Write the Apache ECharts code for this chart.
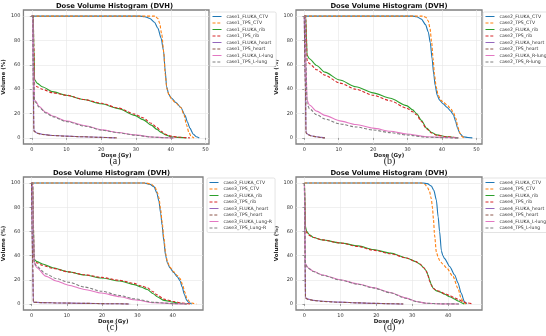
<!DOCTYPE html>
<html>
<head>
<meta charset="utf-8">
<script src="https://cdn.jsdelivr.net/npm/echarts@6/dist/echarts.min.js"></script>
<style>
  html, body { margin: 0; padding: 0; background: #fff; }
  #chart { width: 546px; height: 336px; }
</style>
</head>
<body>
<div id="chart"></div>
<script>
// curve data: [dose (Gy), volume (%)]
// case 1
const c1FlukaCtv = [[0,100],[31,100],[32.5,99.5],[34,98],[35.3,95],[36.3,90],[37.2,82],[37.9,72],[38.4,55],[38.8,42],[39.4,36],[40.1,33],[41.5,29],[42.9,25],[44.1,18.5],[44.8,13],[45.5,8],[46.5,3],[47.3,1],[48.2,0]];
const c1TpsCtv = [[0,100],[35.5,100],[36.3,98],[36.8,94],[37.4,85],[38,70],[38.4,52],[38.9,40],[39.5,35],[40.2,32],[41.5,28.5],[42.9,25],[43.8,19],[44.5,11],[45.2,4.5],[45.9,1],[46.7,0]];
const c1FlukaRib = [[0,100],[0.4,100],[0.6,75],[0.8,48],[1.5,45],[3,42],[6,38],[10,35],[15,31.5],[20,28],[25,24],[29.6,18.5],[32,15],[34.4,10.5],[36,7],[37.2,4.5],[38.5,2.5],[40,1],[42,0.4],[44.5,0]];
const c1TpsRib = [[0,100],[0.4,100],[0.6,75],[0.8,44],[1.5,42],[3,40],[6,37],[10,35],[15,31.5],[20,28.5],[25,24.5],[29.6,19.5],[32,16.5],[34.4,12],[36,8.5],[37.2,5.5],[38.5,3],[40,1.5],[42,0.6],[45.5,0]];
const c1FlukaHeart = [[0,100],[0.3,100],[0.45,40],[0.6,6],[1.5,4],[3,3],[6,2],[10,1.5],[15,0.9],[20,0.5],[24,0]];
const c1TpsHeart = [[0,100],[0.3,100],[0.45,40],[0.6,5.5],[1.5,3.8],[3,2.8],[6,2],[10,1.4],[15,0.9],[20,0.4],[24.5,0]];
const c1FlukaLung = [[0,100],[0.3,100],[0.5,60],[0.8,31],[1.2,30],[2,26],[4.1,21],[6,18],[9.8,14],[15.4,10],[20.2,6.6],[24.9,4.4],[29.6,2.5],[34.4,0.8],[39,0.1],[41,0]];
const c1TpsLung = [[0,100],[0.3,100],[0.5,60],[0.8,30],[1.2,29],[2,25.5],[4.1,20.5],[6,17.5],[9.8,13.5],[15.4,9.6],[20.2,6.3],[24.9,4.2],[29.6,2.3],[34.4,0.7],[39,0.1],[41,0]];
// case 2
const c2FlukaCtv = [[0,100],[31.5,100],[32.6,99.5],[34,97.5],[35.2,93],[36,87],[36.6,78],[37.1,65],[37.6,52],[38,43],[38.6,35],[39.3,31],[40.3,28],[41.5,25],[42.5,22],[43.3,19],[43.9,14],[44.5,8],[45.2,3.5],[46.1,1],[47.5,0.3],[48.8,0]];
const c2TpsCtv = [[0,100],[34.5,100],[35.3,99],[36,96],[36.5,90],[37,78],[37.4,65],[37.8,52],[38.3,42],[38.9,35],[39.6,31],[40.5,29],[41.5,27],[42.5,24],[43.3,21],[44,16],[44.6,9],[45.2,4],[45.7,1.5],[46.3,0]];
const c2FlukaRib = [[0,100],[0.4,100],[0.6,85],[0.8,68],[1.5,65],[3.6,59.5],[6,54],[10.3,47.5],[15,42],[20,37],[25,32.5],[29.7,26.5],[31.5,23],[32.6,20],[34,14.5],[35.5,8],[37,4.5],[38.4,2.5],[41.3,1],[44.7,0]];
const c2TpsRib = [[0,100],[0.4,100],[0.6,85],[0.8,64],[1.5,61],[3.6,56],[6,51.5],[10.3,45],[15,40],[20,35],[25,30.5],[29.7,24.5],[31.5,21.5],[32.6,19],[34,13.5],[35.5,7.5],[37,4],[38.4,2.2],[41.3,0.9],[44.7,0]];
const c2FlukaHeart = [[0,100],[0.2,100],[0.35,40],[0.5,4.5],[1,3],[2,1.8],[3.5,1],[5,0.4],[6,0]];
const c2TpsHeart = [[0,100],[0.2,100],[0.35,40],[0.5,4],[1,2.8],[2,1.6],[3.5,0.9],[5,0.3],[6,0]];
const c2FlukaLung = [[0,100],[0.3,100],[0.5,60],[0.8,31],[1.5,27],[3.6,22],[6,18.5],[10.3,14],[15,11],[20,8],[25,5.5],[29.7,3.2],[35.5,1],[41.3,0.3],[44.7,0]];
const c2TpsLung = [[0,100],[0.3,100],[0.5,60],[0.8,28],[1.5,24],[3.6,19],[6,15.5],[10.3,11.5],[15,9],[20,6.5],[25,4.3],[29.7,2.4],[35.5,0.6],[41.3,0.1],[44.7,0]];
// case 3
const c3FlukaCtv = [[0,100],[32,100],[33.5,99],[34.7,97],[35.5,92],[36.1,85],[36.6,75],[37,65],[37.5,52],[38,40],[38.5,34],[39.2,30],[40.3,26],[41.3,22.5],[42.1,19],[42.7,14],[43.3,8],[44,3],[44.6,1],[45.4,0]];
const c3TpsCtv = [[0,100],[32.5,100],[34,99],[35,96.5],[35.7,92],[36.1,88],[36.6,78],[37,68],[37.5,55],[38,42],[38.5,35],[39.2,30.5],[40.3,26.5],[41.3,23.5],[42.1,21],[42.8,16],[43.4,10],[44,5],[44.8,2],[45.8,0.5],[46.8,0]];
const c3FlukaRib = [[0,100],[0.3,100],[0.5,70],[0.7,37],[1.5,35],[3.1,33],[6,30],[10.5,26.5],[15,24],[19.8,21.5],[25,19],[29.1,16],[31,14],[32.8,12],[34.5,8.5],[35.6,6],[37.5,3],[40.3,1.5],[42,0.6],[44,0]];
const c3TpsRib = [[0,100],[0.3,100],[0.5,70],[0.7,35],[1.5,34],[3.1,32],[6,29.5],[10.5,26.5],[15,24.2],[19.8,22],[25,19.5],[29.1,17],[31,15],[32.8,13.5],[34.5,10],[35.6,7.5],[37.5,4],[40.3,2],[42.5,0.8],[45,0]];
const c3FlukaHeart = [[0,100],[0.2,100],[0.35,30],[0.5,1.5],[3,1.1],[8,0.8],[15,0.5],[22,0.2],[27.7,0]];
const c3TpsHeart = [[0,100],[0.2,100],[0.35,30],[0.5,1.4],[3,1.1],[8,0.8],[15,0.5],[22,0.2],[28,0]];
const c3FlukaLung = [[0,100],[0.3,100],[0.5,60],[0.8,33],[1.5,30],[4,23],[7,19],[10.5,15.5],[15,12],[19.8,9],[25,6],[29.1,3.5],[34.7,1],[40.3,0.3],[44,0]];
const c3TpsLung = [[0,100],[0.3,100],[0.5,60],[0.8,34],[1.5,31],[4,25],[7,21],[10.5,18],[15,14],[19.8,10.5],[25,7],[29.1,4.3],[34.7,1.3],[40.3,0.3],[44,0]];
// case 4
const c4FlukaCtv = [[0,100],[33,100],[34.2,99.5],[35.3,97.5],[36,94],[36.7,86],[37.2,72],[37.6,60],[38.1,44],[38.5,40],[39,37.5],[40.4,31],[41.8,24],[42.7,17.5],[43.6,9],[44.5,2],[45.2,0]];
const c4TpsCtv = [[0,100],[32.5,100],[33.5,99],[34.3,96],[34.8,93],[35.3,87],[35.6,80],[35.9,70],[36.2,57],[36.7,43],[37.2,38.5],[37.6,36],[38.5,33],[39.5,30],[41.3,23],[42.7,13],[43.6,4.5],[44.3,1],[45,0]];
const c4FlukaRib = [[0,100],[0.1,100],[0.2,80],[0.3,64],[0.6,60],[1.5,57],[2.5,55],[5,53],[9.9,50.5],[15,48],[19.1,45],[24,42],[28.4,38],[31,35],[32.1,33],[33.2,30],[33.9,27.5],[34.4,24],[34.8,20],[35.3,16],[35.8,13],[36.6,11],[37.6,10],[39,8],[40.4,6],[41.8,4],[42.7,2.5],[44.1,0.5],[44.5,0]];
const c4TpsRib = [[0,100],[0.1,100],[0.2,80],[0.3,62],[0.6,59],[1.5,56.5],[2.5,55],[5,53],[9.9,50.5],[15,47.5],[19.1,44.5],[24,41.5],[28.4,38],[31,35],[32.1,33],[33.2,30],[33.9,27],[34.4,23],[34.8,19],[35.3,15.5],[35.8,13],[36.6,11.5],[37.6,10.5],[39,8.5],[40.4,7],[41.8,5],[42.7,4],[44,2],[45,1],[46.9,0]];
const c4FlukaHeart = [[0,100],[0.05,100],[0.15,40],[0.3,5],[1,4],[2.5,3],[5,2.2],[9.9,1.5],[15,0.9],[19,0.5],[24,0.2],[27.5,0]];
const c4TpsHeart = [[0,100],[0.05,100],[0.15,40],[0.3,4.8],[1,3.8],[2.5,2.9],[5,2.1],[9.9,1.4],[15,0.9],[19,0.5],[24,0.2],[27.5,0]];
const c4FlukaLung = [[0,100],[0.05,100],[0.15,60],[0.3,33],[1,30],[2.5,27],[5,24],[9.9,20],[15,16.5],[19.1,13.5],[23.8,9.5],[28.4,4.8],[31.1,2],[33.9,0.6],[38,0.1],[43,0]];
const c4TpsLung = [[0,100],[0.05,100],[0.15,60],[0.3,32.5],[1,29.5],[2.5,26.8],[5,23.8],[9.9,19.8],[15,16.3],[19.1,13.3],[23.8,9.3],[28.4,4.6],[31.1,1.9],[33.9,0.6],[38,0.1],[43,0]];

const names1 = ["case1_FLUKA_CTV","case1_TPS_CTV","case1_FLUKA_rib","case1_TPS_rib","case1_FLUKA_heart","case1_TPS_heart","case1_FLUKA_L-lung","case1_TPS_L-lung"];
const names2 = ["case2_FLUKA_CTV","case2_TPS_CTV","case2_FLUKA_rib","case2_TPS_rib","case2_FLUKA_heart","case2_TPS_heart","case2_FLUKA_R-lung","case2_TPS_R-lung"];
const names3 = ["case3_FLUKA_CTV","case3_TPS_CTV","case3_FLUKA_rib","case3_TPS_rib","case3_FLUKA_heart","case3_TPS_heart","case3_FLUKA_Lung-R","case3_TPS_Lung-R"];
const names4 = ["case4_FLUKA_CTV","case4_TPS_CTV","case4_FLUKA_rib","case4_TPS_rib","case4_FLUKA_heart","case4_TPS_heart","case4_FLUKA_L-lung","case4_TPS_L-lung"];

const curves = [
  [c1FlukaCtv, c1TpsCtv, c1FlukaRib, c1TpsRib, c1FlukaHeart, c1TpsHeart, c1FlukaLung, c1TpsLung],
  [c2FlukaCtv, c2TpsCtv, c2FlukaRib, c2TpsRib, c2FlukaHeart, c2TpsHeart, c2FlukaLung, c2TpsLung],
  [c3FlukaCtv, c3TpsCtv, c3FlukaRib, c3TpsRib, c3FlukaHeart, c3TpsHeart, c3FlukaLung, c3TpsLung],
  [c4FlukaCtv, c4TpsCtv, c4FlukaRib, c4TpsRib, c4FlukaHeart, c4TpsHeart, c4FlukaLung, c4TpsLung]
];
const names = [names1, names2, names3, names4];
const captions = ["(a)", "(b)", "(c)", "(d)"];
const xTicks = [[0,10,20,30,40,50],[0,10,20,30,40,50],[0,10,20,30,40],[0,10,20,30,40]];
const yTicks = [0,20,40,60,80,100];

// matplotlib tab10
const colors = ["#1f77b4","#ff7f0e","#2ca02c","#d62728","#9467bd","#8c564b","#e377c2","#7f7f7f"];

// panel boxes (px)
const panels = [
  { left: 20, top: 10, width: 189, height: 134, xmin: -2.4, xmax: 51.0, legX: 210, legY: 12 },
  { left: 296, top: 10, width: 186, height: 134, xmin: -2.4, xmax: 51.6, legX: 483, legY: 12 },
  { left: 20, top: 177, width: 183, height: 133, xmin: -2.3, xmax: 48.6, legX: 207, legY: 178 },
  { left: 296, top: 177, width: 186, height: 133, xmin: -2.35, xmax: 49.4, legX: 483, legY: 178 }
];

const chart = echarts.init(document.getElementById("chart"), null, { renderer: "canvas" });

let grids = [], xAxes = [], yAxes = [], series = [], legends = [], graphics = [];

panels.forEach((p, k) => {
  grids.push({
    left: p.left, top: p.top, width: p.width, height: p.height,
    show: true, borderColor: "#808080", borderWidth: 1.3, backgroundColor: "#fff"
  });
  xAxes.push({
    type: "value", gridIndex: k, min: p.xmin, max: p.xmax,
    name: "Dose (Gy)", nameLocation: "middle", nameGap: 9,
    nameTextStyle: { fontSize: 5.5, fontWeight: "bold", color: "#222", fontFamily: "DejaVu Sans" },
    axisLine: { show: false },
    axisTick: { show: true, length: 2, customValues: xTicks[k], lineStyle: { color: "#666", width: 0.6 } },
    axisLabel: { customValues: xTicks[k], fontSize: 5, color: "#333", margin: 3, fontFamily: "DejaVu Sans" },
    splitLine: { show: true, lineStyle: { color: "#e6e6e6", width: 0.6 } }
  });
  yAxes.push({
    type: "value", gridIndex: k, min: -5, max: 105,
    name: "Volume (%)", nameLocation: "middle", nameGap: 13,
    nameTextStyle: { fontSize: 5.5, fontWeight: "bold", color: "#222", fontFamily: "DejaVu Sans" },
    axisLine: { show: false },
    axisTick: { show: true, length: 2, customValues: yTicks, lineStyle: { color: "#666", width: 0.6 } },
    axisLabel: { customValues: yTicks, fontSize: 5, color: "#333", margin: 3, fontFamily: "DejaVu Sans" },
    splitLine: { show: true, lineStyle: { color: "#e6e6e6", width: 0.6 } }
  });
  curves[k].forEach((d, i) => {
    series.push({
      name: names[k][i], type: "line", xAxisIndex: k, yAxisIndex: k,
      data: d, symbol: "none", showSymbol: false, smooth: 0.25, smoothMonotone: "x",
      lineStyle: { color: colors[i], width: 1.1, type: i % 2 ? [3, 1.8] : "solid" },
      itemStyle: { color: colors[i] },
      z: 2 + i, animation: false
    });
  });
  legends.push({
    data: names[k], orient: "vertical", left: p.legX, top: p.legY,
    itemWidth: 9, itemHeight: 5, itemGap: 1.5, selectedMode: false,
    itemStyle: { opacity: 0 },
    lineStyle: { width: 1 },
    textStyle: { fontSize: 4.6, lineHeight: 5, color: "#333", fontFamily: "DejaVu Sans" },
    backgroundColor: "#fff", borderColor: "#d0d0d0", borderWidth: 0.6, borderRadius: 1.5,
    padding: [2, 3, 2, 2]
  });
  // title and caption
  graphics.push({
    type: "text", x: p.left + p.width / 2, y: p.top - 4,
    style: { text: "Dose Volume Histogram (DVH)", font: "bold 6.8px 'DejaVu Sans'", fill: "#111",
      textAlign: "center", textVerticalAlign: "middle", align: "center", verticalAlign: "middle" }
  });
  graphics.push({
    type: "text", x: p.left + p.width / 2 + 0.5, y: p.top + p.height + 17.5,
    style: { text: captions[k], font: "10px 'Liberation Serif'", fill: "#222",
      textAlign: "center", textVerticalAlign: "middle", align: "center", verticalAlign: "middle" }
  });
});

chart.setOption({
  animation: false,
  backgroundColor: "#fff",
  grid: grids,
  xAxis: xAxes,
  yAxis: yAxes,
  legend: legends,
  series: series,
  graphic: graphics
});
</script>
</body>
</html>
